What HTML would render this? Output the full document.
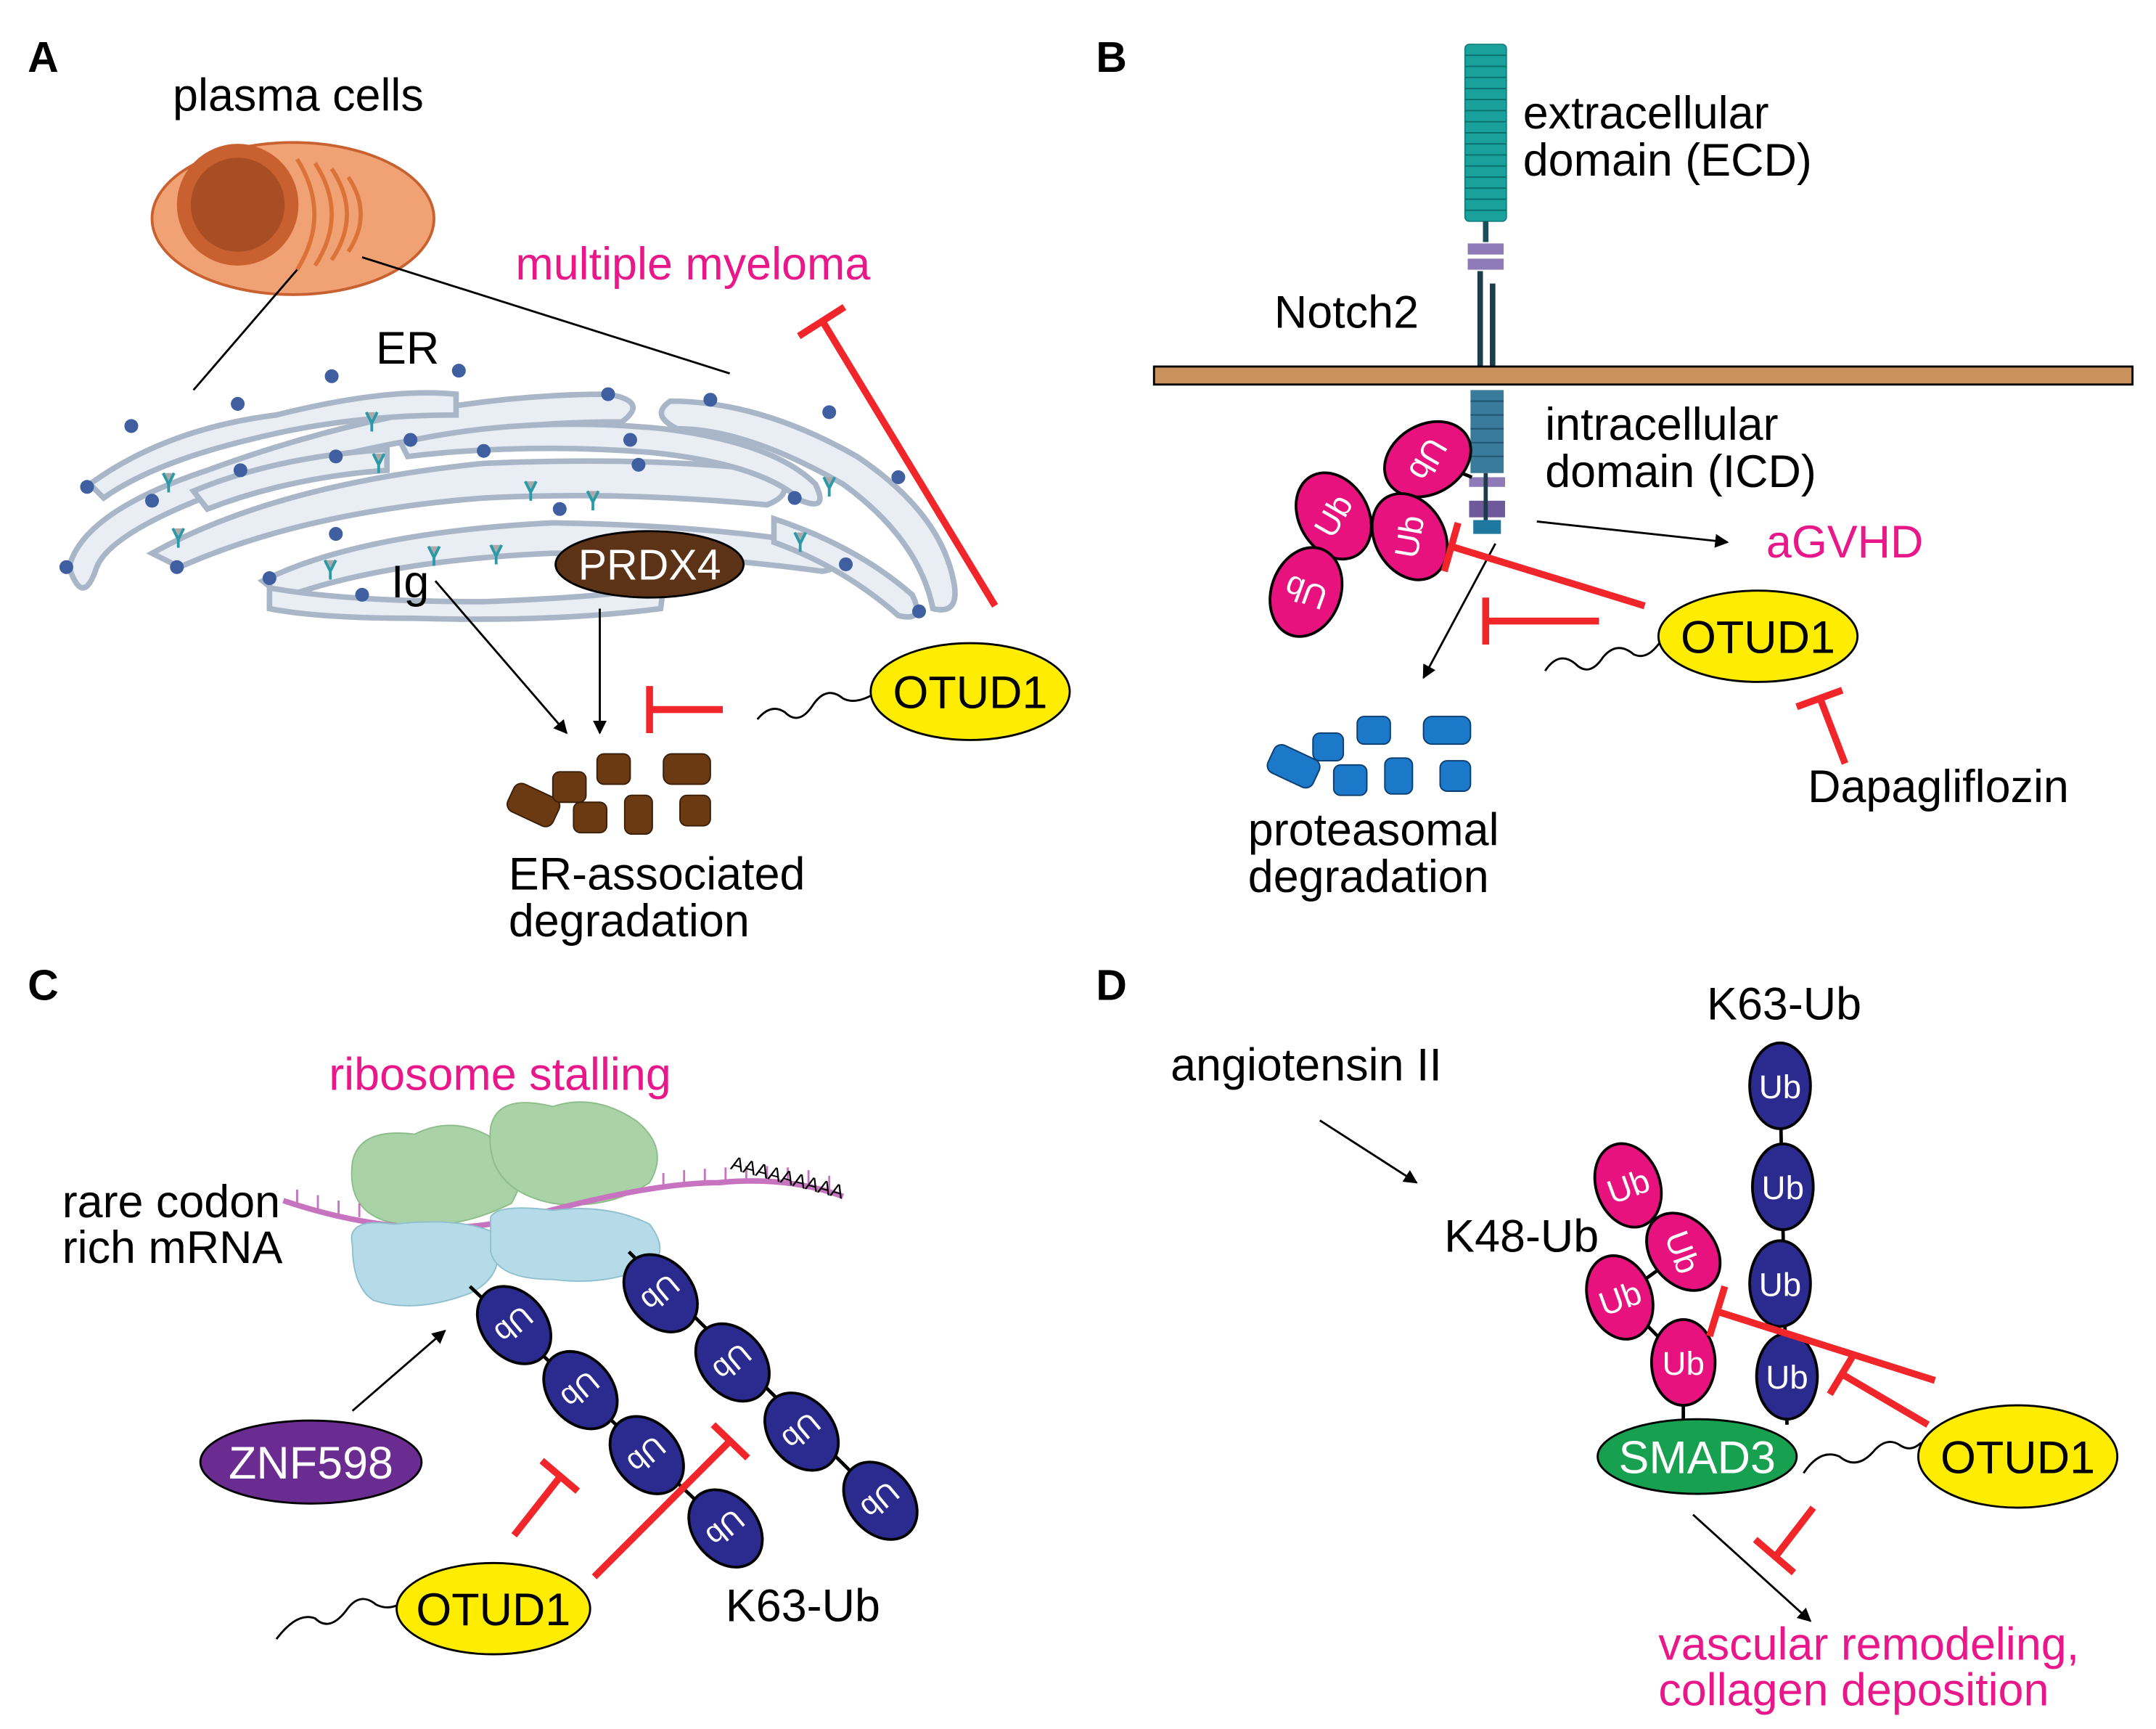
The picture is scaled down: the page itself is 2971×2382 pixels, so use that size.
<!DOCTYPE html>
<html><head><meta charset="utf-8"><style>
html,body{margin:0;padding:0;background:#fff;}
svg{display:block;}
text{font-family:"Liberation Sans",sans-serif;}
</style></head><body>
<svg width="2971" height="2382" viewBox="0 0 1560 1250" preserveAspectRatio="none" xmlns="http://www.w3.org/2000/svg">
<defs>
<marker id="ah" markerWidth="10" markerHeight="10" refX="9" refY="5" orient="auto" markerUnits="userSpaceOnUse"><path d="M0,0 L10,5 L0,10 z" fill="#000"/></marker>
</defs>
<rect width="1560" height="1250" fill="#fff"/>

<!-- PANEL A -->
<text x="20" y="52" font-size="31" font-weight="bold">A</text>
<text x="125" y="80" font-size="33">plasma cells</text>
<ellipse cx="212" cy="158" rx="102" ry="55" fill="#f1a275" stroke="#c8612f" stroke-width="2"/>
<circle cx="172" cy="148" r="44" fill="#c8612f"/>
<circle cx="172" cy="148" r="34" fill="#a94e24"/>
<g stroke="#d9733a" stroke-width="3" fill="none">
<path d="M215,115 Q240,155 215,195"/><path d="M228,118 Q252,155 228,192"/><path d="M240,122 Q262,155 240,188"/><path d="M252,128 Q270,155 252,182"/>
</g>
<line x1="215" y1="195" x2="140" y2="282" stroke="#000" stroke-width="1.5"/>
<line x1="262" y1="186" x2="528" y2="270" stroke="#000" stroke-width="1.5"/>
<text x="373" y="202" font-size="33" fill="#e8178a">multiple myeloma</text>
<line x1="720" y1="438" x2="595" y2="232" stroke="#f0262b" stroke-width="5"/>
<line x1="578" y1="243" x2="611" y2="222" stroke="#f0262b" stroke-width="5"/>
<!-- ER -->
<g fill="#e9eef5" stroke="#a8b6c8" stroke-width="4">
<path d="M50,410 Q60,370 150,340 Q300,285 440,285 Q470,290 450,305 Q300,305 160,355 Q80,385 70,410 Q60,440 50,410 z"/>
<path d="M65,350 Q120,310 200,300 Q280,280 330,285 L330,300 Q250,300 180,318 Q110,335 75,360 z"/>
<path d="M110,400 Q200,350 350,335 Q470,330 555,340 Q580,355 555,365 Q450,355 350,360 Q220,370 130,410 z"/>
<path d="M140,355 Q200,330 280,325 L280,340 Q210,345 150,368 z"/>
<path d="M190,420 Q260,385 400,378 Q520,380 600,395 Q615,410 595,413 Q500,400 400,400 Q280,405 205,432 z"/>
<path d="M195,425 Q250,435 350,435 Q430,432 480,425 L478,440 Q400,450 300,447 Q230,447 195,440 z"/>
<path d="M290,320 Q380,300 480,310 Q560,320 590,350 Q600,370 580,362 Q550,335 470,327 Q380,320 295,330 z"/>
<path d="M485,290 Q550,290 620,330 Q680,370 690,420 Q695,445 675,440 Q665,390 610,350 Q540,310 490,310 Q470,300 485,290 z"/>
<path d="M560,375 Q620,395 660,430 Q670,450 650,445 Q610,410 560,392 z"/>
</g>
<g fill="#3f5fa0">
<circle cx="63" cy="352" r="5"/><circle cx="48" cy="410" r="5"/><circle cx="95" cy="308" r="5"/><circle cx="172" cy="292" r="5"/><circle cx="240" cy="272" r="5"/><circle cx="332" cy="268" r="5"/><circle cx="440" cy="285" r="5"/><circle cx="514" cy="289" r="5"/><circle cx="297" cy="318" r="5"/><circle cx="350" cy="326" r="5"/><circle cx="456" cy="318" r="5"/><circle cx="174" cy="340" r="5"/><circle cx="243" cy="330" r="5"/><circle cx="110" cy="362" r="5"/><circle cx="128" cy="410" r="5"/><circle cx="243" cy="386" r="5"/><circle cx="405" cy="368" r="5"/><circle cx="462" cy="336" r="5"/><circle cx="600" cy="298" r="5"/><circle cx="650" cy="345" r="5"/><circle cx="575" cy="360" r="5"/><circle cx="262" cy="430" r="5"/><circle cx="612" cy="408" r="5"/><circle cx="665" cy="442" r="5"/><circle cx="195" cy="418" r="5"/>
</g>
<g stroke="#2a9aa8" stroke-width="2" fill="#aaa">
<path d="M118,342 l4,8 l4,-8 M122,350 v6"/><path d="M265,298 l4,8 l4,-8 M269,306 v6"/><path d="M380,348 l4,8 l4,-8 M384,356 v6"/><path d="M425,355 l4,8 l4,-8 M429,363 v6"/><path d="M125,382 l4,8 l4,-8 M129,390 v6"/><path d="M270,328 l4,8 l4,-8 M274,336 v6"/><path d="M235,405 l4,8 l4,-8 M239,413 v6"/><path d="M355,394 l4,8 l4,-8 M359,402 v6"/><path d="M310,395 l4,8 l4,-8 M314,403 v6"/><path d="M596,345 l4,8 l4,-8 M600,353 v6"/><path d="M575,385 l4,8 l4,-8 M579,393 v6"/>
</g>
<text x="272" y="263" font-size="33">ER</text>
<ellipse cx="470" cy="408" rx="68" ry="24" fill="#5c3317" stroke="#000" stroke-width="1.5"/>
<text x="470" y="419" font-size="31" fill="#fff" text-anchor="middle">PRDX4</text>
<text x="283" y="432" font-size="33">Ig</text>
<line x1="315" y1="420" x2="410" y2="530" stroke="#000" stroke-width="1.5" marker-end="url(#ah)"/>
<line x1="434" y1="440" x2="434" y2="530" stroke="#000" stroke-width="1.5" marker-end="url(#ah)"/>
<line x1="523" y1="513" x2="470" y2="513" stroke="#f0262b" stroke-width="5"/>
<line x1="470" y1="496" x2="470" y2="530" stroke="#f0262b" stroke-width="5"/>
<path d="M548,520 q10,-12 20,-5 q10,10 20,-5 q10,-15 22,-5 q10,5 25,-5" fill="none" stroke="#000" stroke-width="1.5"/>
<ellipse cx="702" cy="500" rx="72" ry="35" fill="#ffed00" stroke="#000" stroke-width="1.5"/>
<text x="702" y="512" font-size="33" text-anchor="middle">OTUD1</text>
<g fill="#6b3a13" stroke="#3a1f08" stroke-width="1">
<rect x="368" y="571" width="36" height="22" rx="6" transform="rotate(25 386 582)"/>
<rect x="400" y="558" width="24" height="22" rx="5"/>
<rect x="432" y="545" width="24" height="22" rx="5"/>
<rect x="480" y="545" width="34" height="22" rx="6"/>
<rect x="415" y="580" width="24" height="22" rx="5"/>
<rect x="452" y="575" width="20" height="28" rx="5"/>
<rect x="492" y="575" width="22" height="22" rx="5"/>
</g>
<text x="368" y="643" font-size="33">ER-associated</text>
<text x="368" y="677" font-size="33">degradation</text>

<!-- PANEL B -->
<text x="793" y="52" font-size="31" font-weight="bold">B</text>
<rect x="1060" y="32" width="30" height="128" rx="3" fill="#1aa19b" stroke="#0d7a75" stroke-width="0.8"/>
<g stroke="#0d6f6b" stroke-width="1">
<line x1="1060" y1="40" x2="1090" y2="40"/><line x1="1060" y1="48" x2="1090" y2="48"/><line x1="1060" y1="56" x2="1090" y2="56"/><line x1="1060" y1="64" x2="1090" y2="64"/><line x1="1060" y1="72" x2="1090" y2="72"/><line x1="1060" y1="80" x2="1090" y2="80"/><line x1="1060" y1="88" x2="1090" y2="88"/><line x1="1060" y1="96" x2="1090" y2="96"/><line x1="1060" y1="104" x2="1090" y2="104"/><line x1="1060" y1="112" x2="1090" y2="112"/><line x1="1060" y1="120" x2="1090" y2="120"/><line x1="1060" y1="128" x2="1090" y2="128"/><line x1="1060" y1="136" x2="1090" y2="136"/><line x1="1060" y1="144" x2="1090" y2="144"/><line x1="1060" y1="152" x2="1090" y2="152"/>
</g>
<line x1="1075" y1="160" x2="1075" y2="175" stroke="#1c4e5a" stroke-width="4"/>
<rect x="1062" y="176" width="26" height="8" fill="#8f7ab8"/>
<rect x="1062" y="187" width="26" height="8" fill="#8f7ab8"/>
<line x1="1071" y1="196" x2="1071" y2="265" stroke="#1c3e4a" stroke-width="4"/>
<line x1="1080" y1="205" x2="1080" y2="265" stroke="#1c3e4a" stroke-width="4"/>
<rect x="835" y="265" width="708" height="13" fill="#c9925c" stroke="#000" stroke-width="1.5"/>
<rect x="1064" y="282" width="24" height="60" fill="#3a7a9a"/>
<g stroke="#1f5570" stroke-width="1"><line x1="1064" y1="290" x2="1088" y2="290"/><line x1="1064" y1="300" x2="1088" y2="300"/><line x1="1064" y1="310" x2="1088" y2="310"/><line x1="1064" y1="320" x2="1088" y2="320"/><line x1="1064" y1="330" x2="1088" y2="330"/></g>
<rect x="1063" y="345" width="26" height="7" fill="#8f7ab8"/>
<rect x="1063" y="362" width="26" height="12" fill="#6e5a9a"/>
<rect x="1066" y="376" width="20" height="10" fill="#1e78a0"/>
<line x1="1075" y1="342" x2="1075" y2="376" stroke="#1c3e4a" stroke-width="3"/>
<text x="1102" y="93" font-size="33">extracellular</text>
<text x="1102" y="127" font-size="33">domain (ECD)</text>
<text x="922" y="237" font-size="33">Notch2</text>
<text x="1118" y="318" font-size="33">intracellular</text>
<text x="1118" y="352" font-size="33">domain (ICD)</text>
<g stroke="#000" stroke-width="2.5"><line x1="1065" y1="345" x2="1040" y2="335"/><line x1="1020" y1="388" x2="1033" y2="332"/><line x1="1020" y1="388" x2="965" y2="373"/><line x1="965" y1="373" x2="945" y2="428"/></g>
<g fill="#e8127f" stroke="#000" stroke-width="2">
<ellipse cx="1033" cy="332" rx="25" ry="33" transform="rotate(60 1033 332)"/>
<ellipse cx="965" cy="373" rx="25" ry="33" transform="rotate(-30 965 373)"/>
<ellipse cx="1020" cy="388" rx="25" ry="33" transform="rotate(-30 1020 388)"/>
<ellipse cx="945" cy="428" rx="25" ry="33" transform="rotate(20 945 428)"/>
</g>
<g fill="#fff" font-size="24" text-anchor="middle">
<text x="1033" y="340" transform="rotate(120 1033 332)">Ub</text>
<text x="965" y="381" transform="rotate(-60 965 373)">Ub</text>
<text x="1020" y="396" transform="rotate(-80 1020 388)">Ub</text>
<text x="945" y="436" transform="rotate(200 945 428)">Ub</text>
</g>
<line x1="1112" y1="377" x2="1250" y2="392" stroke="#000" stroke-width="1.5" marker-end="url(#ah)"/>
<text x="1278" y="403" font-size="33" fill="#e8178a">aGVHD</text>
<line x1="1082" y1="393" x2="1030" y2="490" stroke="#000" stroke-width="1.5" marker-end="url(#ah)"/>
<line x1="1190" y1="438" x2="1050" y2="395" stroke="#f0262b" stroke-width="5"/>
<line x1="1055" y1="378" x2="1045" y2="413" stroke="#f0262b" stroke-width="5"/>
<line x1="1157" y1="449" x2="1075" y2="449" stroke="#f0262b" stroke-width="5"/>
<line x1="1075" y1="432" x2="1075" y2="466" stroke="#f0262b" stroke-width="5"/>
<path d="M1118,485 q10,-15 22,-5 q10,10 20,-5 q10,-12 22,-2 q10,5 20,-10" fill="none" stroke="#000" stroke-width="1.5"/>
<ellipse cx="1272" cy="460" rx="72" ry="33" fill="#ffed00" stroke="#000" stroke-width="1.5"/>
<text x="1272" y="472" font-size="33" text-anchor="middle">OTUD1</text>
<line x1="1335" y1="552" x2="1317" y2="505" stroke="#f0262b" stroke-width="5"/>
<line x1="1300" y1="511" x2="1333" y2="499" stroke="#f0262b" stroke-width="5"/>
<text x="1308" y="580" font-size="33">Dapagliflozin</text>
<g fill="#1c78c8" stroke="#0b3d70" stroke-width="1">
<rect x="918" y="543" width="36" height="22" rx="6" transform="rotate(25 936 554)"/>
<rect x="950" y="530" width="22" height="20" rx="5"/>
<rect x="982" y="518" width="24" height="20" rx="5"/>
<rect x="1030" y="518" width="34" height="20" rx="6"/>
<rect x="965" y="553" width="24" height="22" rx="5"/>
<rect x="1002" y="548" width="20" height="26" rx="5"/>
<rect x="1042" y="550" width="22" height="22" rx="5"/>
</g>
<text x="903" y="611" font-size="33">proteasomal</text>
<text x="903" y="645" font-size="33">degradation</text>

<!-- PANEL C -->
<text x="20" y="723" font-size="31" font-weight="bold">C</text>
<text x="238" y="788" font-size="33" fill="#e8178a">ribosome stalling</text>
<text x="45" y="880" font-size="33">rare codon</text>
<text x="45" y="913" font-size="33">rich mRNA</text>
<path d="M255,840 Q260,815 300,820 Q330,805 360,825 Q390,835 370,870 Q330,890 290,885 Q250,880 255,840 z" fill="#a9d3a6" stroke="#8dbd8a" stroke-width="1"/>
<path d="M355,815 Q360,790 400,800 Q430,790 460,810 Q485,830 470,855 Q440,875 400,870 Q350,860 355,815 z" fill="#a9d3a6" stroke="#8dbd8a" stroke-width="1"/>
<path d="M205,868 Q300,900 380,880 Q470,855 520,855 Q570,850 610,865" fill="none" stroke="#c773bf" stroke-width="4"/>
<g stroke="#c773bf" stroke-width="1.5">
<path d="M215,870 v-10 M230,874 v-10 M245,878 v-10 M260,880 v-10 M480,858 v-10 M495,856 v-10 M510,855 v-10 M525,854 v-10 M540,853 v-10 M555,853 v-10 M570,854 v-10 M585,856 v-10 M600,860 v-10"/>
</g>
<path d="M255,900 Q250,880 285,885 Q330,880 355,890 Q370,920 340,935 Q300,950 270,940 Q255,930 255,900 z" fill="#b6dbe8" stroke="#8fbfcf" stroke-width="1"/>
<path d="M355,880 Q360,870 400,875 Q440,870 470,885 Q485,905 470,915 Q440,930 400,925 Q360,925 355,905 z" fill="#b6dbe8" stroke="#8fbfcf" stroke-width="1"/>
<text x="528" y="845" font-size="14" transform="rotate(15 528 845)">AAAAAAAAA</text>
<ellipse cx="225" cy="1057" rx="80" ry="30" fill="#6a2c91" stroke="#000" stroke-width="1.5"/>
<text x="225" y="1069" font-size="33" fill="#fff" text-anchor="middle">ZNF598</text>
<line x1="255" y1="1020" x2="322" y2="962" stroke="#000" stroke-width="1.5" marker-end="url(#ah)"/>
<g stroke="#000" stroke-width="2.5"><line x1="340" y1="930" x2="525" y2="1105"/><line x1="455" y1="905" x2="637" y2="1085"/></g>
<g fill="#2b2b8f" stroke="#000" stroke-width="2">
<ellipse cx="372" cy="958" rx="23" ry="31" transform="rotate(-40 372 958)"/>
<ellipse cx="420" cy="1005" rx="23" ry="31" transform="rotate(-40 420 1005)"/>
<ellipse cx="468" cy="1052" rx="23" ry="31" transform="rotate(-40 468 1052)"/>
<ellipse cx="525" cy="1105" rx="23" ry="31" transform="rotate(-40 525 1105)"/>
<ellipse cx="478" cy="935" rx="23" ry="31" transform="rotate(-40 478 935)"/>
<ellipse cx="530" cy="985" rx="23" ry="31" transform="rotate(-40 530 985)"/>
<ellipse cx="580" cy="1035" rx="23" ry="31" transform="rotate(-40 580 1035)"/>
<ellipse cx="637" cy="1085" rx="23" ry="31" transform="rotate(-40 637 1085)"/>
</g>
<g fill="#fff" font-size="22" text-anchor="middle">
<text x="372" y="966" transform="rotate(140 372 958)">Ub</text>
<text x="420" y="1013" transform="rotate(140 420 1005)">Ub</text>
<text x="468" y="1060" transform="rotate(140 468 1052)">Ub</text>
<text x="525" y="1113" transform="rotate(140 525 1105)">Ub</text>
<text x="478" y="943" transform="rotate(140 478 935)">Ub</text>
<text x="530" y="993" transform="rotate(140 530 985)">Ub</text>
<text x="580" y="1043" transform="rotate(140 580 1035)">Ub</text>
<text x="637" y="1093" transform="rotate(140 637 1085)">Ub</text>
</g>
<line x1="372" y1="1110" x2="405" y2="1068" stroke="#f0262b" stroke-width="5"/>
<line x1="392" y1="1056" x2="418" y2="1078" stroke="#f0262b" stroke-width="5"/>
<line x1="430" y1="1140" x2="528" y2="1042" stroke="#f0262b" stroke-width="5"/>
<line x1="516" y1="1030" x2="541" y2="1054" stroke="#f0262b" stroke-width="5"/>
<path d="M200,1185 q15,-20 28,-15 q10,10 22,-5 q10,-15 22,-5 q10,5 20,-2" fill="none" stroke="#000" stroke-width="1.5"/>
<ellipse cx="357" cy="1163" rx="70" ry="33" fill="#ffed00" stroke="#000" stroke-width="1.5"/>
<text x="357" y="1175" font-size="33" text-anchor="middle">OTUD1</text>
<text x="525" y="1172" font-size="33">K63-Ub</text>

<!-- PANEL D -->
<text x="793" y="723" font-size="31" font-weight="bold">D</text>
<text x="1235" y="737" font-size="33">K63-Ub</text>
<text x="847" y="781" font-size="33">angiotensin II</text>
<line x1="955" y1="810" x2="1025" y2="855" stroke="#000" stroke-width="1.5" marker-end="url(#ah)"/>
<text x="1045" y="905" font-size="33">K48-Ub</text>
<g stroke="#000" stroke-width="2.5"><line x1="1288" y1="785" x2="1293" y2="1030"/><line x1="1178" y1="857" x2="1218" y2="905"/><line x1="1218" y1="905" x2="1172" y2="938"/><line x1="1172" y1="938" x2="1218" y2="985"/><line x1="1218" y1="985" x2="1218" y2="1030"/></g>
<g fill="#2b2b8f" stroke="#000" stroke-width="2">
<ellipse cx="1288" cy="785" rx="22" ry="31"/><ellipse cx="1290" cy="858" rx="22" ry="31"/><ellipse cx="1288" cy="928" rx="22" ry="31"/><ellipse cx="1293" cy="995" rx="22" ry="31"/>
</g>
<g fill="#e8127f" stroke="#000" stroke-width="2">
<ellipse cx="1178" cy="857" rx="23" ry="31" transform="rotate(-20 1178 857)"/>
<ellipse cx="1218" cy="905" rx="23" ry="31" transform="rotate(-40 1218 905)"/>
<ellipse cx="1172" cy="938" rx="23" ry="31" transform="rotate(-20 1172 938)"/>
<ellipse cx="1218" cy="985" rx="23" ry="31"/>
</g>
<g fill="#fff" font-size="24" text-anchor="middle">
<text x="1288" y="794">Ub</text><text x="1290" y="867">Ub</text><text x="1288" y="937">Ub</text><text x="1293" y="1004">Ub</text>
<text x="1178" y="866" transform="rotate(-20 1178 857)">Ub</text>
<text x="1218" y="914" transform="rotate(70 1218 905)">Ub</text>
<text x="1172" y="947" transform="rotate(-20 1172 938)">Ub</text>
<text x="1218" y="994">Ub</text>
</g>
<ellipse cx="1228" cy="1053" rx="72" ry="27" fill="#17a050" stroke="#000" stroke-width="1.5"/>
<text x="1228" y="1065" font-size="33" fill="#fff" text-anchor="middle">SMAD3</text>
<line x1="1400" y1="998" x2="1242" y2="948" stroke="#f0262b" stroke-width="5"/>
<line x1="1248" y1="930" x2="1237" y2="966" stroke="#f0262b" stroke-width="5"/>
<line x1="1395" y1="1030" x2="1332" y2="993" stroke="#f0262b" stroke-width="5"/>
<line x1="1342" y1="978" x2="1324" y2="1008" stroke="#f0262b" stroke-width="5"/>
<path d="M1305,1065 q12,-18 26,-12 q12,10 24,-3 q10,-12 20,-5 q8,5 15,-2" fill="none" stroke="#000" stroke-width="1.5"/>
<ellipse cx="1460" cy="1053" rx="72" ry="37" fill="#ffed00" stroke="#000" stroke-width="1.5"/>
<text x="1460" y="1065" font-size="33" text-anchor="middle">OTUD1</text>
<line x1="1225" y1="1095" x2="1310" y2="1172" stroke="#000" stroke-width="1.5" marker-end="url(#ah)"/>
<line x1="1312" y1="1090" x2="1285" y2="1125" stroke="#f0262b" stroke-width="5"/>
<line x1="1270" y1="1113" x2="1298" y2="1137" stroke="#f0262b" stroke-width="5"/>
<text x="1200" y="1200" font-size="33" fill="#e8178a">vascular remodeling,</text>
<text x="1200" y="1233" font-size="33" fill="#e8178a">collagen deposition</text>
</svg>
</body></html>
